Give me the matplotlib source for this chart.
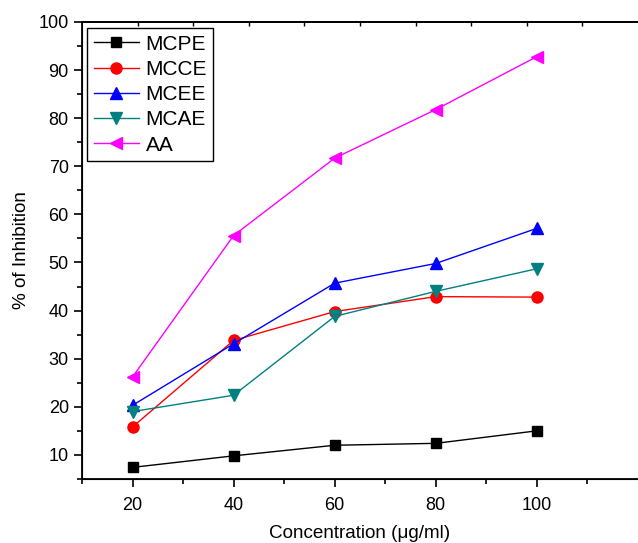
import numpy as np
import matplotlib
matplotlib.use('Agg')
import matplotlib.pyplot as plt

# concentration (ug/ml) and % inhibition
conc = [20, 40, 60, 80, 100]
mcpe = [7.4, 9.8, 12.0, 12.4, 15.0]
mcce = [15.8, 33.8, 39.8, 42.9, 42.8]
mcee = [20.3, 33.1, 45.7, 49.8, 57.1]
mcae = [19.0, 22.4, 38.8, 44.0, 48.7]
aa = [26.2, 55.6, 71.7, 81.8, 92.8]

plt.rcParams['font.family'] = ['Liberation Sans', 'DejaVu Sans']

fig = plt.figure(figsize=(6.38, 5.43), dpi=100)
ax = fig.add_axes([0.1285, 0.118, 0.8715, 0.8415])

ms = 7
ax.plot(conc, mcpe, color='black', marker='s', ms=ms, lw=1, label='MCPE')
ax.plot(conc, mcce, color='red', marker='o', ms=ms + 1, lw=1, label='MCCE')
ax.plot(conc, mcee, color='blue', marker='^', ms=ms + 1, lw=1, label='MCEE')
ax.plot(conc, mcae, color='#008080', marker='v', ms=ms + 1, lw=1, label='MCAE')
ax.plot(conc, aa, color='magenta', marker='<', ms=ms + 1, lw=1, label='AA')

ax.set_xlim(10, 120)
ax.set_ylim(5, 100)
ax.set_xticks([20, 40, 60, 80, 100])
ax.set_xticks(np.arange(10, 111, 10), minor=True)
ax.set_yticks(np.arange(10, 101, 10))
ax.set_yticks(np.arange(5, 100, 10), minor=True)
ax.tick_params(which='both', direction='out', labelsize=13, width=1.2)
ax.tick_params(which='major', length=6)
ax.tick_params(which='minor', length=3.5)
ax.tick_params(axis='x', which='major', pad=7)
ax.spines['right'].set_visible(False)
for s in ['left', 'bottom', 'top']:
    ax.spines[s].set_linewidth(1.3)

# small inward ticks on the top axis
top = ax.twiny()
top.set_xlim(10, 120)
top.set_xticks(np.arange(21, 120, 11))
top.tick_params(direction='in', length=3, labeltop=False, width=1)
top.spines['right'].set_visible(False)
top.spines['top'].set_linewidth(1.3)

ax.set_xlabel('Concentration (\u03bcg/ml)', fontsize=13.6, labelpad=8)
ax.set_ylabel('% of Inhibition', fontsize=13.6, labelpad=6)

leg = ax.legend(loc='upper left', bbox_to_anchor=(0.002, 0.995), fontsize=15,
                fancybox=False, edgecolor='black', framealpha=1,
                handlelength=2.2, handletextpad=0.3, borderpad=0.3,
                labelspacing=0.3, borderaxespad=0.2)
leg.get_frame().set_linewidth(1)

fig.savefig('out.png', dpi=100)
